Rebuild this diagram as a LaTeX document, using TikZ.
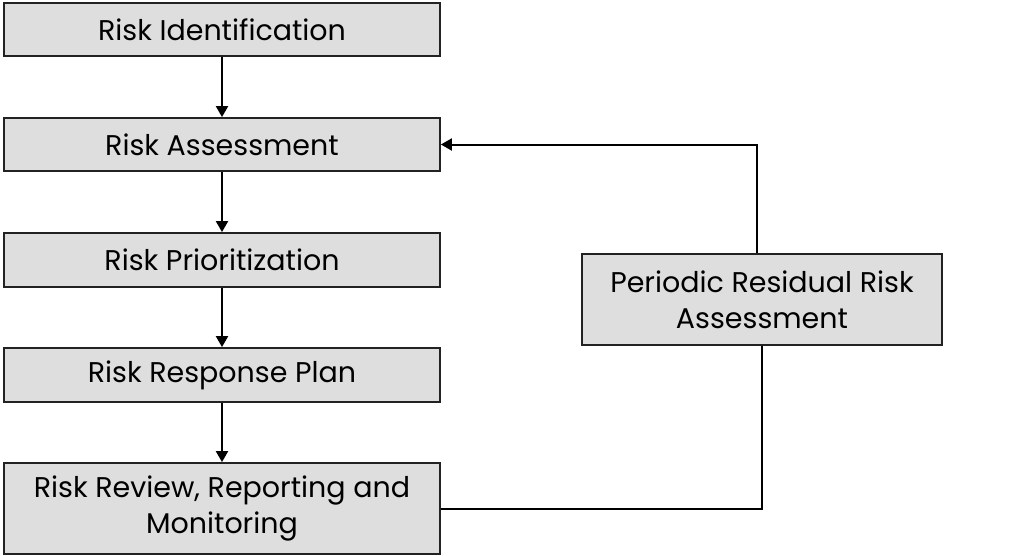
\documentclass[tikz,border=0pt]{standalone}
\usepackage{fontspec}
\setmainfont{Poppins}[Scale=1.0]
\usepackage{tikz}
\usetikzlibrary{arrows.meta,positioning}
\definecolor{boxgray}{HTML}{DEDEDE}
\definecolor{linegray}{HTML}{222222}

\begin{document}
\begin{tikzpicture}[
  x=1pt,y=-1pt,
  every node/.style={font=\fontsize{28.5}{36}\selectfont},
  stage/.style={rectangle,draw=linegray,line width=1.8pt,fill=boxgray,minimum width=436pt,minimum height=53pt,align=center,inner sep=0pt},
  tall/.style={stage,minimum height=91pt},
  arrow/.style={-{Triangle[length=11pt,width=12pt]},line width=2pt,color=black},
  link/.style={line width=2pt,color=black}
]
\useasboundingbox (0,0) rectangle (1014,555);

\node[stage] (ident) at (222,29.5) {Risk Identification};
\node[stage] (assess) at (222,144.5) {Risk Assessment};
\node[stage,minimum height=54pt] (prior) at (222,260) {Risk Prioritization};
\node[stage,minimum height=54pt] (response) at (222,375) {Risk Response Plan};
\node[tall] (review) at (222,508.5) {Risk Review, Reporting and\\Monitoring};
\node[tall,minimum width=360pt] (periodic) at (762,299.5) {Periodic Residual Risk\\Assessment};

\draw[arrow] (ident) -- (assess);
\draw[arrow] (assess) -- (prior);
\draw[arrow] (prior) -- (response);
\draw[arrow] (response) -- (review);

\draw[arrow] ([xshift=-5pt]periodic.north) |- (assess.east);
\draw[link] (review.east) -| (periodic.south);
\end{tikzpicture}
\end{document}
